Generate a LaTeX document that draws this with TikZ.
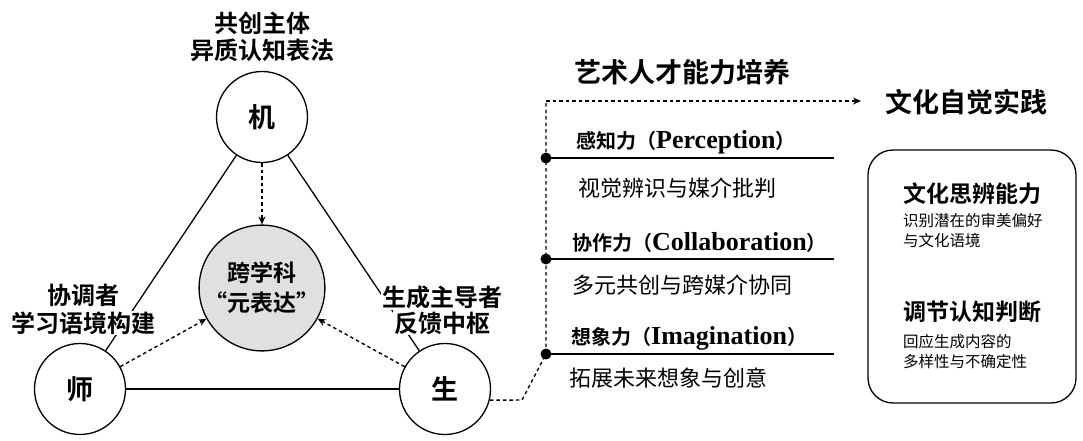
\documentclass[tikz,border=0pt]{standalone}
\usepackage{fontspec}
\usetikzlibrary{arrows.meta}
\setmainfont{Liberation Serif}
\newfontfamily\cjk{Noto Sans CJK SC}[BoldFont={Noto Sans CJK SC Bold}]
\newcommand{\latin}[1]{{\rmfamily\bfseries\fontsize{26}{30}\selectfont #1}}
\tikzset{
  agent/.style={circle, draw, line width=1.3pt, minimum size=91pt, inner sep=0pt, fill=white,
    font=\cjk\bfseries\fontsize{27}{30}\selectfont},
  hub/.style={circle, draw, line width=1.3pt, minimum size=104pt, inner sep=0pt, fill=black!12,
    align=center, font=\cjk\bfseries\fontsize{23}{30}\selectfont},
  role/.style={fill=white, inner sep=1pt, align=center, font=\cjk\bfseries\fontsize{24}{27}\selectfont},
  edge/.style={line width=1.3pt},
  flow/.style={line width=1.4pt, dash pattern=on 3.5pt off 3pt},
  dot/.style={circle, fill=black, minimum size=11pt, inner sep=0pt},
  skill/.style={anchor=west, inner sep=0pt, font=\cjk\bfseries\fontsize{20}{24}\selectfont},
  gloss/.style={anchor=west, inner sep=0pt, font=\cjk\fontsize{22}{26}\selectfont},
  headline/.style={anchor=west, inner sep=0pt, font=\cjk\bfseries\fontsize{27}{30}\selectfont},
  boxhead/.style={anchor=west, inner sep=0pt, font=\cjk\bfseries\fontsize{23}{26}\selectfont},
  boxnote/.style={anchor=west, inner sep=0pt, align=left, font=\cjk\fontsize{15.5}{19.5}\selectfont}
}
\begin{document}
\begin{tikzpicture}[x=1pt, y=-1pt, >={Stealth[length=8pt, width=7pt]}]
    \useasboundingbox (0,0) rectangle (1083,441);

    % triangle of actors
    \node[agent] (ji) at (262,117) {机};
    \node[agent] (shi) at (80,389) {师};
    \node[agent] (sheng) at (445,389) {生};
    \node[hub] (meta) at (262,288) {跨学科\\“元表达”};

    \draw[edge] (ji) -- (shi);
    \draw[edge] (ji) -- (sheng);
    \draw[edge] (shi) -- (sheng);
    \draw[flow, ->] (ji) -- (meta);
    \draw[flow, ->] (shi) -- (meta);
    \draw[flow, ->] (sheng) -- (meta);

    \node[role] (ji-role) at (262,36.5) {共创主体\\异质认知表法};
    \node[role] (shi-role) at (83,295) {协调者};
    \node[role] (shi-task) at (83,323) {学习语境构建};
    \node[role] (sheng-role) at (442,297) {生成主导者};
    \node[role] (sheng-task) at (442,323) {反馈中枢};

    % competence track
    \node[headline] (talent) at (574,72) {艺术人才能力培养};
    \node[headline] (practice) at (885,102) {文化自觉实践};

    \node[dot] (b1) at (546,158) {};
    \node[dot] (b2) at (546,259) {};
    \node[dot] (b3) at (546,354) {};
    \coordinate (bend) at (522,400);
    \coordinate (top) at (546,101);
    \coordinate (aim) at (861,101);

    \draw[flow] (sheng.-14) -- (bend) -- (b3.center) -- (b2.center) -- (b1.center) -- (top);
    \draw[flow, ->] (top) -- (aim);

    \foreach \b/\y in {b1/158, b2/259, b3/354}
        \draw[edge] (\b.center) -- (834,\y);

    \node[skill] (perc) at (576,142) {感知力（\latin{Perception}）};
    \node[gloss] (perc-note) at (578,188) {视觉辨识与媒介批判};
    \node[skill] (coll) at (572,242) {协作力（\latin{Collaboration}）};
    \node[gloss] (coll-note) at (572,285) {多元共创与跨媒介协同};
    \node[skill] (imag) at (571,338) {想象力（\latin{Imagination}）};
    \node[gloss] (imag-note) at (569,378) {拓展未来想象与创意};

    % outcome panel
    \draw[edge, rounded corners=25pt] (868,150) rectangle (1076,403);
    \node[boxhead] (think) at (903,194) {文化思辨能力};
    \node[boxnote] (think-note) at (903,230.5) {识别潜在的审美偏好\\与文化语境};
    \node[boxhead] (judge) at (903,312) {调节认知判断};
    \node[boxnote] (judge-note) at (903,351.5) {回应生成内容的\\多样性与不确定性};
\end{tikzpicture}
\end{document}
